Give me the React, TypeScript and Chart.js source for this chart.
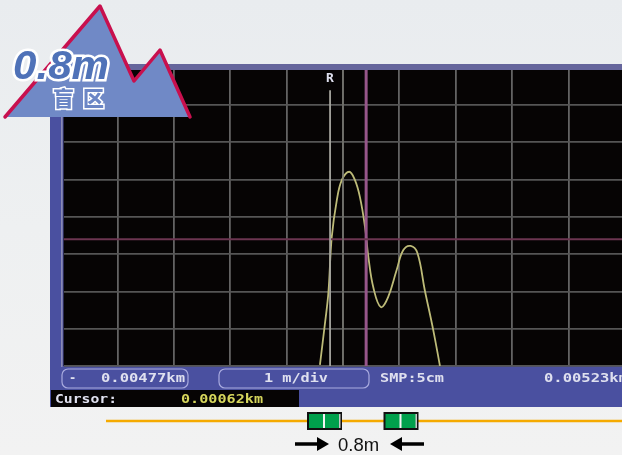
import React, { useEffect, useRef } from "react";
import { Chart, registerables } from "chart.js";

Chart.register(...registerables);

// Trace, in divisions from the left and bottom of the screen
const traceX = [4.59, 4.68, 4.74, 4.80, 4.89, 4.98, 5.11, 5.21, 5.30, 5.39, 5.45, 5.54, 5.67, 5.80, 5.95, 6.07, 6.20, 6.32, 6.45, 6.60, 6.72];
const traceY = [0.03, 1.15, 1.96, 3.46, 4.45, 4.99, 5.21, 4.99, 4.53, 3.73, 2.92, 2.09, 1.58, 1.85, 2.57, 3.11, 3.22, 3.03, 2.04, 0.97, 0];

const cursorRX = 4.77;
const cursorMidX = 5.0;
const cursorX = 5.41;
const levelY = 3.4;
const rTop = 7.4;
const xMin = 0.04;
const xMax = 9.95;
const yMax = 7.94;

const leftReadout = "0.00477km";
const rightReadout = "0.00523km";
const divReadout = "1 m/div";
const sampleReadout = "SMP:5cm";
const cursorLabel = "Cursor:";
const cursorValue = "0.00062km";
const markerLabel = "R";
const distanceLabel = "0.8m";
const zoneLabel = "盲区";

const mono = "'DejaVu Sans Mono','Liberation Mono',monospace";

function pts(xs: number[], ys: number[]) {
  return xs.map((x, i) => ({ x, y: ys[i] }));
}

function Device({ x }: { x: number }) {
  return (
    <g>
      <rect x={x} y={413} width={33} height={16} fill="#00a04c" stroke="#111" strokeWidth={2} />
      <rect x={x + 15} y={414} width={2} height={14} fill="#f4f4f4" />
      <rect x={x + 31} y={414} width={1.5} height={14} fill="#c9c9c9" />
    </g>
  );
}

export default function App() {
  const ref = useRef<HTMLCanvasElement>(null);
  useEffect(() => {
    const chart = new Chart(ref.current as HTMLCanvasElement, {
      type: "line",
      data: {
        datasets: [
          { data: pts([cursorRX, cursorRX], [0, rTop]), borderColor: "#a5a59e", borderWidth: 1.8, pointRadius: 0 },
          { data: pts([cursorMidX, cursorMidX], [0, yMax]), borderColor: "#77776f", borderWidth: 1.4, pointRadius: 0 },
          { data: pts([xMin, xMax], [levelY, levelY]), borderColor: "#6b3550", borderWidth: 1.8, pointRadius: 0 },
          { data: pts([cursorX, cursorX], [0, yMax]), borderColor: "#96568a", borderWidth: 3, pointRadius: 0 },
          { data: pts(traceX, traceY), borderColor: "#bdbb78", borderWidth: 1.8, pointRadius: 0, tension: 0.4 },
        ],
      },
      options: {
        responsive: false,
        animation: false,
        parsing: false,
        layout: { padding: { left: 63.5, right: 0, top: 70, bottom: 89 } },
        plugins: { legend: { display: false }, tooltip: { enabled: false } },
        scales: {
          x: {
            type: "linear",
            min: xMin,
            max: xMax,
            border: { display: false },
            ticks: { display: false, stepSize: 1, includeBounds: false },
            grid: { color: "#636363", lineWidth: 1.8, drawTicks: false },
          },
          y: {
            type: "linear",
            min: 0,
            max: yMax,
            border: { display: false },
            ticks: { display: false, stepSize: 1, includeBounds: false },
            grid: { color: "#555555", lineWidth: 1.8, drawTicks: false },
          },
        },
      },
      plugins: [
        {
          id: "screen",
          beforeDraw(c: Chart) {
            const { ctx, chartArea: a } = c;
            ctx.save();
            ctx.fillStyle = "#060404";
            ctx.fillRect(a.left, a.top, a.right - a.left, a.bottom - a.top);
            ctx.restore();
          },
        },
      ],
    } as any);
    return () => chart.destroy();
  }, []);

  const base: React.CSSProperties = { position: "absolute", left: 0, top: 0 };
  return (
    <div style={{ ...base, width: 622, height: 455, overflow: "hidden", background: "linear-gradient(#e9ecef 0%, #eef0f1 50%, #f2f2f2 100%)" }}>
      <svg width={622} height={455} style={base}>
        <rect x={50} y={64} width={572} height={343} fill="#4a50a0" />
        <rect x={50} y={64} width={572} height={6} fill="#66669c" />
        <rect x={61} y={70} width={1.6} height={297} fill="#8a8ab4" />
      </svg>
      <canvas ref={ref} width={622} height={455} style={{ ...base, filter: "blur(0.5px)" }} />
      <svg width={622} height={455} style={base}>
        <rect x={62} y={369} width={126} height={19} rx={6} fill="none" stroke="#a9abdf" strokeWidth={1.2} />
        <rect x={219} y={369} width={150} height={19} rx={6} fill="none" stroke="#a9abdf" strokeWidth={1.2} />
        <rect x={51} y={390} width={248} height={17} fill="#060404" />
        <g fontFamily={mono} fontSize={12} fontWeight={700} fill="#dfe0ef" style={{ filter: "blur(0.5px)" }}>
          <text x={69} y={382}>-</text>
          <text x={101} y={382} textLength={84} lengthAdjust="spacingAndGlyphs">{leftReadout}</text>
          <text x={264} y={382} textLength={64} lengthAdjust="spacingAndGlyphs">{divReadout}</text>
          <text x={380} y={382} textLength={64} lengthAdjust="spacingAndGlyphs">{sampleReadout}</text>
          <text x={544} y={382} textLength={84} lengthAdjust="spacingAndGlyphs">{rightReadout}</text>
          <text x={55} y={403} textLength={62} lengthAdjust="spacingAndGlyphs">{cursorLabel}</text>
          <text x={181} y={403} textLength={82} lengthAdjust="spacingAndGlyphs" fill="#d6d65c">{cursorValue}</text>
          <text x={326} y={82} fontSize={13}>{markerLabel}</text>
        </g>

        <polygon points="5,117 100,6 134,81 160,50 190,117" fill="#7089c6" />
        <polyline points="5,117 100,6 134,81 160,50 190,117" fill="none" stroke="#c8104e" strokeWidth={3.5} strokeLinejoin="round" strokeLinecap="round" />
        <text x={13} y={79} fontFamily="'Liberation Sans',Arial,sans-serif" fontSize={40} fontWeight={700} fontStyle="italic" fill="#4f72b8" stroke="#fff" strokeWidth={5} paintOrder="stroke" textLength={96} lengthAdjust="spacingAndGlyphs">{distanceLabel}</text>
        <text x={53} y={106} fontFamily="'Noto Sans CJK SC',sans-serif" fontSize={21} fontWeight={900} fill="#6b86c6" stroke="#fff" strokeWidth={3} paintOrder="stroke" textLength={51}>{zoneLabel}</text>

        <line x1={106} y1={421} x2={622} y2={421} stroke="#f5aa00" strokeWidth={2.5} />
        <Device x={308} />
        <Device x={384.5} />

        <line x1={295} y1={444} x2={320} y2={444} stroke="#000" strokeWidth={3.5} />
        <polygon points="317,437 329,444 317,451" fill="#000" />
        <line x1={400} y1={444} x2={424} y2={444} stroke="#000" strokeWidth={3.5} />
        <polygon points="402,437 390,444 402,451" fill="#000" />
        <text x={338} y={451} fontFamily="'Liberation Sans',Arial,sans-serif" fontSize={18.5} fill="#111">{distanceLabel}</text>
      </svg>
    </div>
  );
}
